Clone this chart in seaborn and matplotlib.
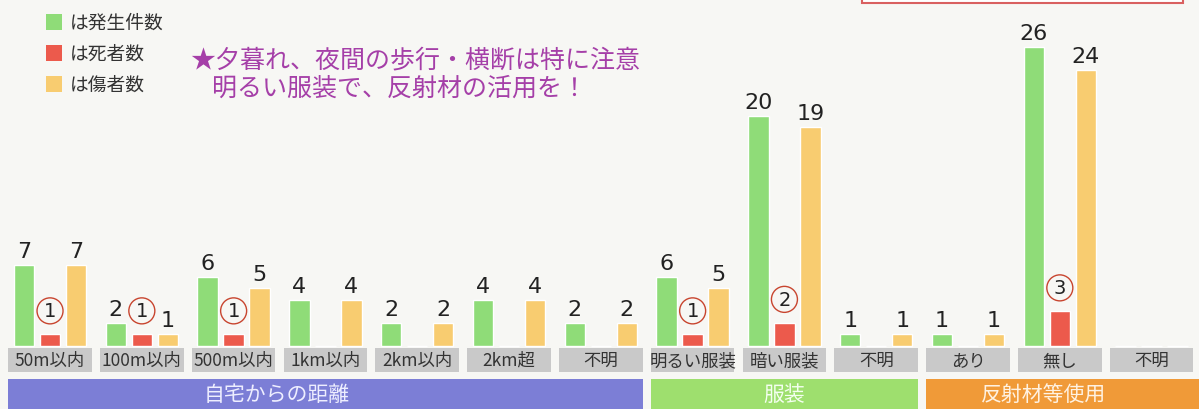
import pandas as pd
import matplotlib.pyplot as plt
from matplotlib.patches import Rectangle
import seaborn as sns

sns.set_theme(style="white")
plt.rcParams['font.family'] = ['Noto Sans CJK JP', 'DejaVu Sans']

labels = ["50m以内", "100m以内", "500m以内", "1km以内", "2km以内", "2km超", "不明",
          "明るい服装", "暗い服装", "不明", "あり", "無し", "不明"]
groups = ["自宅からの距離", "服装", "反射材等使用"]
group_sizes = [7, 3, 3]
series = ["は発生件数", "は死者数", "は傷者数"]
occurrences = [7, 2, 6, 4, 2, 4, 2, 6, 20, 1, 1, 26, 0]
deaths = [1, 1, 1, 0, 0, 0, 0, 1, 2, 0, 0, 3, 0]
injuries = [7, 1, 5, 4, 2, 4, 2, 5, 19, 1, 1, 24, 0]
note = ["★夕暮れ、夜間の歩行・横断は特に注意", "明るい服装で、反射材の活用を！"]

colors = ["#8fdc78", "#ec5a4c", "#f8cc70"]
group_colors = ["#7c7ed6", "#9edf6e", "#f09a38"]
group_text = ["#eeeeff", "#f4fff0", "#fff2e2"]
label_shift = [-0.53, 0.0, -0.2]  # group titles are not quite centred
bg = "#f7f7f4"

n = len(labels)
df = pd.DataFrame({
    "pos": list(range(n)) * 3,
    "value": occurrences + deaths + injuries,
    "series": [series[0]] * n + [series[1]] * n + [series[2]] * n,
})

fig = plt.figure(figsize=(11.99, 4.10), dpi=100, facecolor=bg)
ax = fig.add_axes([0, 0, 1, 1])
ax.set_facecolor(bg)
sns.barplot(data=df, x="pos", y="value", hue="series", hue_order=series,
            palette=colors, width=0.85, gap=0.22, saturation=1,
            legend=False, ax=ax)
ax.set_xlim(-0.545, 12.516)
ax.set_ylim(-5.48, 30.17)
ax.axis("off")

# value labels
for k, cont in enumerate(ax.containers):
    for bar in cont:
        h = bar.get_height()
        if h == 0:
            continue
        cx = bar.get_x() + bar.get_width() / 2
        if k == 1:
            ax.annotate(f"{int(h)}", (cx, h), xytext=(0, 17), textcoords="offset points",
                        ha="center", va="center", fontsize=14, color="#222",
                        family="DejaVu Sans",
                        bbox=dict(boxstyle="circle,pad=0.18", fc="none", ec="#c8452f", lw=1))
        else:
            ax.annotate(f"{int(h)}", (cx, h), xytext=(0, 3), textcoords="offset points",
                        ha="center", va="bottom", fontsize=16, color="#222",
                        family="DejaVu Sans")

# category boxes
for i, lab in enumerate(labels):
    ax.add_patch(Rectangle((i - 0.455, -2.26), 0.91, 2.09, fc="#c9c9c9", ec="none"))
    ax.text(i, -1.22, lab, ha="center", va="center", fontsize=12.5, color="#333")

# group bars
start = 0
for g, size, c, tc, sh in zip(groups, group_sizes, group_colors, group_text, label_shift):
    x0 = start - 0.455
    x1 = start + size - 1 + 0.455
    if start + size == n:
        x1 = 12.6
    ax.add_patch(Rectangle((x0, -5.6), x1 - x0, 2.73, fc=c, ec="none"))
    ax.text((x0 + min(x1, 12.5)) / 2 + sh, -4.17, g, ha="center", va="center",
            fontsize=15, color=tc)
    start += size

# overlay in pixel coordinates
ov = fig.add_axes([0, 0, 1, 1])
ov.set_xlim(0, 1199)
ov.set_ylim(410, 0)
ov.axis("off")
ov.patch.set_alpha(0)

for j, (s, c) in enumerate(zip(series, colors)):
    y = 23 + j * 31
    ov.add_patch(Rectangle((46, y - 8), 16, 16, fc=c, ec="none"))
    ov.text(70, y, s, ha="left", va="center", fontsize=13.5, color="#333")

ov.text(190, 60, note[0], ha="left", va="center", fontsize=18, color="#a53fa8")
ov.text(212, 89, note[1], ha="left", va="center", fontsize=18, color="#a53fa8")

ov.add_patch(Rectangle((862, -10), 321, 14, fc="white", ec="#d96060", lw=1.5))

fig.savefig("out.png", dpi=100, facecolor=bg)
